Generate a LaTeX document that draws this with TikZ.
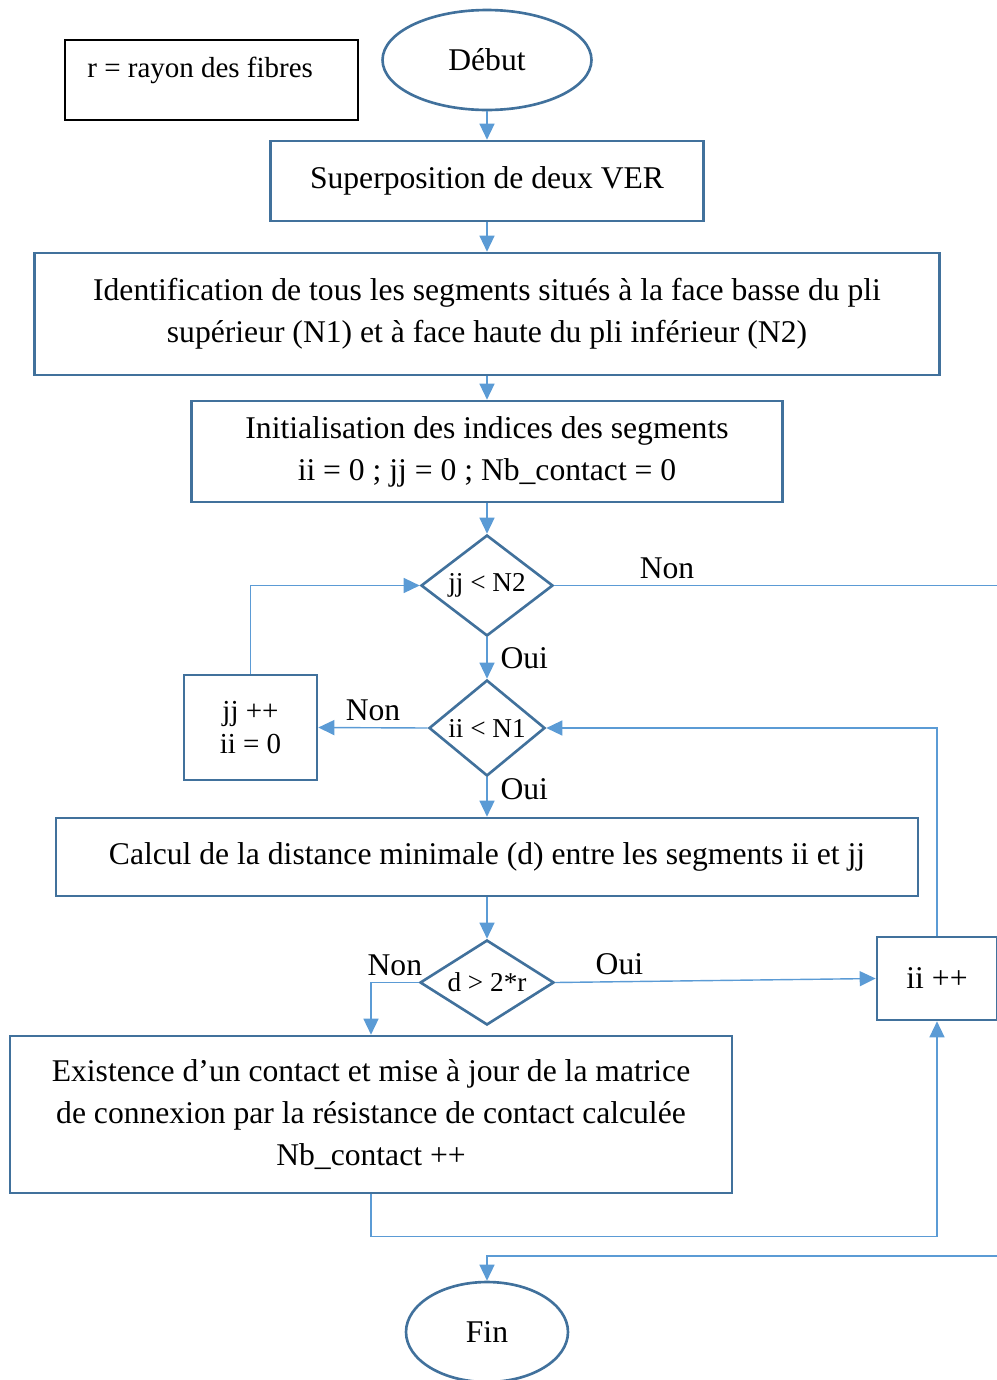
\documentclass[tikz,border=0pt]{standalone}
\usepackage{fontspec}
\setmainfont{Liberation Serif}
\usepackage{tikz}
\usetikzlibrary{positioning,shapes.geometric,arrows.meta}
\definecolor{boxblue}{HTML}{41719C}
\definecolor{linkblue}{HTML}{5B9BD5}

\begin{document}
\begin{tikzpicture}[x=0.02cm, y=-0.02cm,
    every node/.style={font=\fontsize{18}{23.9}\selectfont},
    procbox/.style={draw=boxblue, line width=1.5pt, rectangle, align=center, inner sep=0pt},
    termbox/.style={draw=boxblue, line width=1.5pt, ellipse, inner sep=0pt},
    testbox/.style={draw=boxblue, line width=1.5pt, diamond, inner sep=0pt, font=\fontsize{15.5}{18}\selectfont},
    link/.style={draw=linkblue, line width=0.8pt, -{Triangle[length=0.32cm,width=0.3cm]}}]
    \useasboundingbox (0,0) rectangle (997,1380);

    % note
    \node (note) [draw=black, line width=0.8pt, minimum width=5.86cm, minimum height=1.6cm] at (211.5,80) {};
    \node (notetext) [anchor=west, inner sep=0pt, font=\fontsize{16.5}{20}\selectfont] at (87,70) {r = rayon des fibres};

    % main column
    \node (debut) [termbox, minimum width=4.18cm, minimum height=2.0cm] at (487,60) {Début};
    \node (superpos) [procbox, minimum width=8.66cm, minimum height=1.6cm] at (487,181) {Superposition de deux VER};
    \node (identif) [procbox, minimum width=18.1cm, minimum height=2.44cm] at (487,314) {Identification de tous les segments situés à la face basse du pli\\ supérieur (N1) et à face haute du pli inférieur (N2)};
    \node (init) [procbox, minimum width=11.82cm, minimum height=2.02cm] at (487,451.5) {Initialisation des indices des segments\\ ii = 0 ; jj = 0 ; Nb\_contact = 0};
    \node (testjj) [testbox, aspect=1.32, minimum width=2.64cm, minimum height=2.02cm] at (487,585.5) {jj < N2};
    \node (testii) [testbox, aspect=1.2, minimum width=2.32cm, minimum height=1.92cm] at (487,728) {ii < N1};
    \node (incjj) [procbox, minimum width=2.66cm, minimum height=2.1cm, font=\fontsize{16.5}{18.5}\selectfont] at (250.5,727.5) {jj ++\\ ii = 0};
    \node (calcul) [procbox, minimum width=17.24cm, minimum height=1.56cm] at (487,857) {Calcul de la distance minimale (d) entre les segments ii et jj};
    \node (testd) [testbox, aspect=1.58, minimum width=2.68cm, minimum height=1.7cm] at (487,982.5) {d > 2*r};
    \node (incii) [procbox, minimum width=2.4cm, minimum height=1.66cm] at (937,978.5) {ii ++};
    \node (contact) [procbox, minimum width=14.44cm, minimum height=3.14cm] at (371,1114.5) {Existence d'un contact et mise à jour de la matrice\\ de connexion par la résistance de contact calculée\\ Nb\_contact ++};
    \node (fin) [termbox, minimum width=3.24cm, minimum height=2.0cm] at (487,1332) {Fin};

    % connectors
    \draw[link] (debut) -- (superpos);
    \draw[link] (superpos) -- (identif);
    \draw[link] (identif) -- (init);
    \draw[link] (init) -- (testjj);
    \draw[link] (testjj) -- node[right, xshift=4pt] (ouijj) {Oui} (testii);
    \draw[link] (testii.west) -- node[above] (nonii) {Non} (incjj.east);
    \draw[link] (incjj.north) |- (testjj.west);
    \draw[link] (testjj.east) -- node[above, pos=0.25] (nonjj) {Non} (1005,585.5) -- (1005,1256) -| (fin.north);
    \draw[link] (testii) -- node[right, xshift=4pt, pos=0.3] (ouiii) {Oui} (calcul);
    \draw[link] (calcul) -- (testd);
    \draw[link] (testd.east) -- node[above, pos=0.2] (ouid) {Oui} (incii.west);
    \draw[link] (testd.west) -| node[above, pos=0.25] (nond) {Non} (contact.north);
    \draw[link] (incii.north) |- (testii.east);
    \draw[link] (contact.south) -- ++(0,42) -| (incii.south);
\end{tikzpicture}
\end{document}
